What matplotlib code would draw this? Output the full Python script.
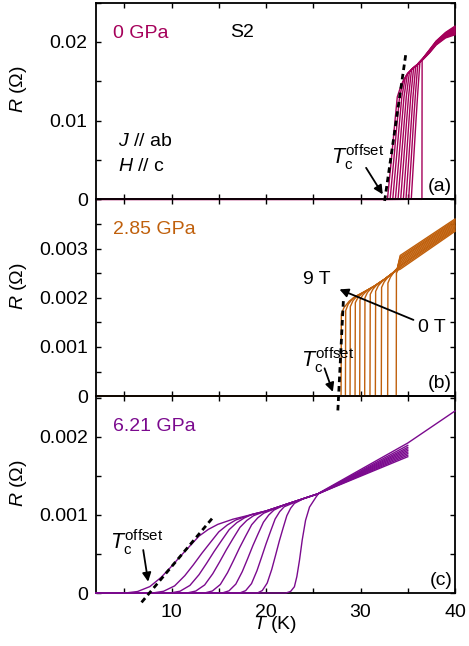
import numpy as np
import matplotlib
matplotlib.use("Agg")
import matplotlib.pyplot as plt
from matplotlib.ticker import MultipleLocator, FixedLocator, FuncFormatter

# ---------------- data (T in K, R in mOhm) ----------------
# Panel (a) 0 GPa : 11 field curves (9 T ... 0 T)
A_T = [
    [2, 32.85, 33.26, 33.65, 33.89, 34.30, 34.5, 35.0, 35.5, 36.0, 36.6, 37.3, 38.0, 39.0, 40.0],
    [2, 33.13, 33.52, 33.89, 34.13, 34.52, 35.0, 35.5, 36.0, 36.6, 37.3, 38.0, 39.0, 40.0],
    [2, 33.41, 33.78, 34.14, 34.37, 34.74, 35.0, 35.5, 36.0, 36.6, 37.3, 38.0, 39.0, 40.0],
    [2, 33.69, 34.05, 34.39, 34.60, 34.96, 35.5, 36.0, 36.6, 37.3, 38.0, 39.0, 40.0],
    [2, 33.97, 34.31, 34.64, 34.84, 35.18, 35.5, 36.0, 36.6, 37.3, 38.0, 39.0, 40.0],
    [2, 34.25, 34.57, 34.88, 35.08, 35.40, 36.0, 36.6, 37.3, 38.0, 39.0, 40.0],
    [2, 34.53, 34.84, 35.13, 35.31, 35.62, 36.0, 36.6, 37.3, 38.0, 39.0, 40.0],
    [2, 34.81, 35.10, 35.38, 35.55, 35.84, 36.0, 36.6, 37.3, 38.0, 39.0, 40.0],
    [2, 35.09, 35.36, 35.62, 35.79, 36.06, 36.6, 37.3, 38.0, 39.0, 40.0],
    [2, 35.37, 35.62, 35.87, 36.03, 36.28, 36.6, 37.3, 38.0, 39.0, 40.0],
    [2, 36.50, 36.52, 36.6, 37.3, 38.0, 39.0, 40.0],
]
A_R = [
    [0, 0, 5.0, 10.0, 13.0, 14.5, 15.0, 16.0, 16.6, 17.1, 17.9, 19.0, 20.1, 21.2, 22.0],
    [0, 0, 5.0, 10.0, 13.0, 15.0, 16.0, 16.6, 17.1, 17.9, 18.96, 20.05, 21.13, 21.89],
    [0, 0, 5.0, 10.0, 13.0, 15.5, 16.0, 16.6, 17.1, 17.9, 18.92, 20.0, 21.06, 21.78],
    [0, 0, 5.0, 10.0, 13.0, 15.9, 16.6, 17.1, 17.85, 18.88, 19.95, 20.99, 21.67],
    [0, 0, 5.0, 10.0, 13.0, 16.2, 16.6, 17.1, 17.85, 18.84, 19.9, 20.92, 21.56],
    [0, 0, 5.0, 10.0, 13.0, 16.5, 17.1, 17.85, 18.8, 19.85, 20.85, 21.45],
    [0, 0, 5.0, 10.0, 13.0, 16.7, 17.1, 17.8, 18.76, 19.8, 20.78, 21.34],
    [0, 0, 5.0, 10.0, 13.0, 16.9, 17.1, 17.8, 18.72, 19.75, 20.71, 21.23],
    [0, 0, 5.0, 10.0, 13.0, 17.2, 17.8, 18.68, 19.7, 20.64, 21.12],
    [0, 0, 5.0, 10.0, 13.0, 17.4, 17.75, 18.64, 19.65, 20.57, 21.01],
    [0, 0, 17.7, 17.75, 18.6, 19.6, 20.5, 20.9],
]
A_fit_T = [32.55, 34.8]
A_fit_R = [-0.2, 18.5]

# Panel (b) 2.85 GPa : 11 field curves (9 T ... 0 T)
B_T = [
    [2, 27.94, 27.97, 28.25, 28.8, 29.4, 30.4, 31.5, 32.5, 33.4, 33.9, 34.2, 40.0],
    [2, 28.40, 28.43, 28.7, 29.2, 30.4, 31.5, 32.5, 33.4, 33.9, 34.2, 40.0],
    [2, 28.89, 28.92, 29.2, 29.7, 30.4, 31.5, 32.5, 33.4, 33.9, 34.2, 40.0],
    [2, 29.42, 29.45, 29.72, 30.22, 31.5, 32.5, 33.4, 33.9, 34.2, 40.0],
    [2, 29.91, 29.94, 30.21, 30.71, 31.5, 32.5, 33.4, 33.9, 34.2, 40.0],
    [2, 30.44, 30.47, 30.74, 31.24, 32.5, 33.4, 33.9, 34.2, 40.0],
    [2, 31.00, 31.03, 31.3, 31.8, 32.5, 33.4, 33.9, 34.2, 40.0],
    [2, 31.57, 31.60, 31.87, 32.37, 33.4, 33.9, 34.2, 40.0],
    [2, 32.20, 32.23, 32.5, 33.0, 33.4, 33.9, 34.2, 40.0],
    [2, 32.87, 32.90, 33.17, 33.5, 33.9, 34.2, 40.0],
    [2, 33.78, 33.80, 33.95, 34.2, 40.0],
]
B_R = [
    [0, 0, 1.67, 1.80, 1.93, 2.02, 2.12, 2.24, 2.37, 2.50, 2.60, 2.86, 3.60],
    [0, 0, 1.74, 1.87, 1.99, 2.12, 2.24, 2.37, 2.50, 2.60, 2.83, 3.575],
    [0, 0, 1.82, 1.94, 2.05, 2.12, 2.24, 2.37, 2.50, 2.59, 2.80, 3.55],
    [0, 0, 1.90, 2.00, 2.10, 2.24, 2.37, 2.50, 2.59, 2.78, 3.525],
    [0, 0, 1.95, 2.05, 2.15, 2.24, 2.37, 2.50, 2.58, 2.75, 3.50],
    [0, 0, 2.00, 2.11, 2.21, 2.37, 2.50, 2.58, 2.72, 3.475],
    [0, 0, 2.07, 2.17, 2.28, 2.37, 2.50, 2.58, 2.69, 3.45],
    [0, 0, 2.13, 2.24, 2.35, 2.50, 2.57, 2.66, 3.425],
    [0, 0, 2.21, 2.32, 2.44, 2.50, 2.57, 2.64, 3.40],
    [0, 0, 2.30, 2.42, 2.51, 2.56, 2.61, 3.375],
    [0, 0, 2.50, 2.56, 2.58, 3.35],
]
B_fit_T = [27.6, 28.2]
B_fit_R = [-0.29, 2.0]

# Panel (c) 6.21 GPa : 9 field curves (highest field ... 0 T)
C_T = [
    [2, 5.1, 6.4, 7.7, 8.9, 9.9, 10.9, 11.9, 12.9, 13.9, 14.9, 16.5, 18.5, 20.0, 22.0, 24.0, 25.5, 35.0],
    [2, 7.98, 9.15, 10.32, 11.40, 12.30, 13.20, 14.10, 15.00, 15.90, 16.80, 18.5, 20.0, 22.0, 24.0, 25.5, 35.0],
    [2, 9.86, 10.90, 11.94, 12.90, 13.70, 14.50, 15.30, 16.10, 16.90, 17.70, 18.5, 20.0, 22.0, 24.0, 25.5, 35.0],
    [2, 11.63, 12.56, 13.50, 14.36, 15.08, 15.80, 16.52, 17.24, 17.96, 18.68, 20.0, 22.0, 24.0, 25.5, 35.0],
    [2, 13.49, 14.32, 15.16, 15.92, 16.56, 17.20, 17.84, 18.48, 19.12, 19.76, 22.0, 24.0, 25.5, 35.0],
    [2, 15.35, 16.08, 16.80, 17.48, 18.04, 18.60, 19.16, 19.72, 20.28, 20.84, 22.0, 24.0, 25.5, 35.0],
    [2, 17.21, 17.84, 18.46, 19.04, 19.52, 20.00, 20.48, 20.96, 21.44, 21.92, 24.0, 25.5, 35.0],
    [2, 19.08, 19.60, 20.12, 20.60, 21.00, 21.40, 21.80, 22.20, 22.60, 23.00, 24.0, 25.5, 35.0],
    [2, 22.1, 22.6, 23.0, 23.26, 23.54, 23.83, 24.18, 24.6, 25.3, 25.6, 30.0, 35.0, 40.0],
]
C_R = [
    [0, 0, 0.019, 0.082, 0.201, 0.329, 0.466, 0.597, 0.728, 0.815, 0.879, 0.945, 1.005, 1.05, 1.13, 1.21, 1.27, 1.745],
    [0, 0, 0.022, 0.091, 0.222, 0.360, 0.508, 0.646, 0.783, 0.871, 0.935, 1.005, 1.05, 1.13, 1.21, 1.27, 1.765],
    [0, 0, 0.023, 0.097, 0.234, 0.379, 0.531, 0.673, 0.812, 0.900, 0.961, 1.005, 1.05, 1.13, 1.21, 1.27, 1.785],
    [0, 0, 0.025, 0.103, 0.247, 0.397, 0.554, 0.700, 0.841, 0.929, 0.990, 1.05, 1.13, 1.21, 1.27, 1.805],
    [0, 0, 0.026, 0.109, 0.260, 0.417, 0.580, 0.729, 0.874, 0.962, 1.022, 1.13, 1.21, 1.27, 1.825],
    [0, 0, 0.028, 0.114, 0.273, 0.436, 0.605, 0.758, 0.906, 0.998, 1.062, 1.13, 1.21, 1.27, 1.845],
    [0, 0, 0.030, 0.120, 0.286, 0.456, 0.630, 0.791, 0.947, 1.041, 1.104, 1.21, 1.27, 1.865],
    [0, 0, 0.031, 0.127, 0.301, 0.480, 0.664, 0.830, 0.990, 1.085, 1.147, 1.21, 1.27, 1.89],
    [0, 0, 0.02, 0.08, 0.21, 0.42, 0.68, 0.93, 1.10, 1.23, 1.28, 1.58, 1.92, 2.33],
]
C_fit_T = [6.82, 14.4]
C_fit_R = [-0.12, 0.97]

pressures = ["0 GPa", "2.85 GPa", "6.21 GPa"]
panel_tags = ["(a)", "(b)", "(c)"]
colors = ["#a5005a", "#c0600c", "#7b0a8e"]
y_major = [[0, 0.01, 0.02], [0, 0.001, 0.002, 0.003], [0, 0.001, 0.002]]
y_minor = [0.005, 0.0005, 0.0005]
y_lims = [(0, 0.025), (0, 0.004), (0, 0.00252)]
x_lim = (2, 40)

# ---------------- style ----------------
plt.rcParams.update({
    "font.family": ["Liberation Sans", "DejaVu Sans"],
    "font.size": 14,
    "mathtext.fontset": "custom",
    "mathtext.rm": "Liberation Sans",
    "mathtext.it": "Liberation Sans:italic",
    "mathtext.bf": "Liberation Sans:bold",
    "axes.linewidth": 1.3,
})

W, H = 469, 646
fig = plt.figure(figsize=(W / 100, H / 100), dpi=100)
gs = fig.add_gridspec(3, 1, left=96 / W, right=455 / W, bottom=53 / H,
                      top=1 - 2.5 / H, hspace=0)
axs = [fig.add_subplot(gs[i]) for i in range(3)]

data = [(A_T, A_R, A_fit_T, A_fit_R), (B_T, B_R, B_fit_T, B_fit_R), (C_T, C_R, C_fit_T, C_fit_R)]
fmt = FuncFormatter(lambda v, p: "0" if abs(v) < 1e-12 else "%g" % v)

for i, ax in enumerate(axs):
    ax.patch.set_visible(False)
    Ts, Rs, fT, fR = data[i]
    for T, R in zip(Ts, Rs):
        ax.plot(T, np.array(R) / 1000.0, color=colors[i], lw=1.0,
                clip_on=False, zorder=3, solid_joinstyle="round")
    ax.plot(fT, np.array(fR) / 1000.0, color="k", lw=2.0, ls=(0, (2.0, 1.4)),
            clip_on=False, zorder=4)
    ax.set_xlim(*x_lim)
    ax.set_ylim(*y_lims[i])
    ax.xaxis.set_major_locator(MultipleLocator(10))
    ax.xaxis.set_minor_locator(MultipleLocator(5))
    ax.yaxis.set_major_locator(FixedLocator(y_major[i]))
    ax.yaxis.set_minor_locator(MultipleLocator(y_minor[i]))
    ax.yaxis.set_major_formatter(fmt)
    ax.tick_params(which="both", direction="in", top=True, right=True,
                   length=3.6, width=1.0)
    ax.tick_params(axis="y", which="major", pad=6)
    ax.tick_params(axis="x", which="major", pad=8)
    if i < 2:
        ax.tick_params(labelbottom=False)
    ax.set_ylabel("$R$ (Ω)")
    ax.yaxis.set_label_coords(-0.187, 0.56)
    ax.text(0.047, 0.845, pressures[i], transform=ax.transAxes, color=colors[i],
            ha="left", va="center")
    ax.text(0.992, 0.066, panel_tags[i], transform=ax.transAxes,
            ha="right", va="center")

axs[2].set_xlabel("$T$ (K)")
axs[2].xaxis.set_label_coords(0.5, -0.107)

arrow = dict(arrowstyle="-|>", color="k", lw=1.3, mutation_scale=13,
             shrinkA=0, shrinkB=0)
tc = r"$T_{\rm c}^{\rm offset}$"
tc_size = 15.5

# panel (a) annotations
ax = axs[0]
ax.text(0.373, 0.846, "S2", transform=ax.transAxes, ha="left", va="center")
ax.text(0.061, 0.294, "$J$ // ab", transform=ax.transAxes, ha="left", va="center")
ax.text(0.061, 0.167, "$H$ // c", transform=ax.transAxes, ha="left", va="center")
ax.text(0.655, 0.177, tc, transform=ax.transAxes, ha="left", va="baseline", fontsize=tc_size)
ax.annotate("", xy=(32.35, 0.63e-3), xytext=(30.59, 4.0e-3), arrowprops=arrow)

# panel (b) annotations
ax = axs[1]
ax.text(0.570, 0.150, tc, transform=ax.transAxes, ha="left", va="baseline", fontsize=tc_size)
ax.annotate("", xy=(27.07, 0.088e-3), xytext=(26.19, 0.566e-3), arrowprops=arrow)
ax.text(0.577, 0.592, "9 T", transform=ax.transAxes, ha="left", va="center")
ax.text(0.897, 0.347, "0 T", transform=ax.transAxes, ha="left", va="center")
ax.annotate("", xy=(27.77, 2.17e-3), xytext=(35.6, 1.55e-3), arrowprops=arrow)

# panel (c) annotations
ax = axs[2]
ax.text(0.040, 0.221, tc, transform=ax.transAxes, ha="left", va="baseline", fontsize=tc_size)
ax.annotate("", xy=(7.52, 0.145e-3), xytext=(7.0, 0.55e-3), arrowprops=arrow)

fig.savefig("out.png", dpi=100)
